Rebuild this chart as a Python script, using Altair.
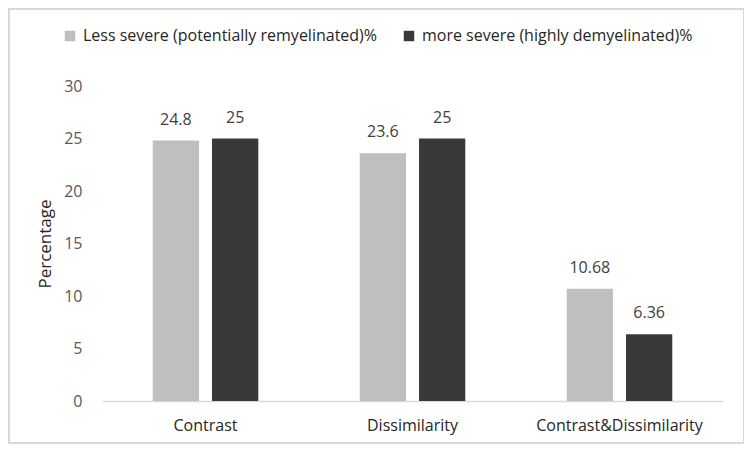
import altair as alt
import pandas as pd

categories = ["Contrast", "Dissimilarity", "Contrast&Dissimilarity"]
series = ["Less severe (potentially remyelinated)%", "more severe (highly demyelinated)%"]
less_severe = [24.8, 23.6, 10.68]
more_severe = [25, 25, 6.36]
labels_less = ["24.8", "23.6", "10.68"]
labels_more = ["25", "25", "6.36"]

rows = []
for c, v, l in zip(categories, less_severe, labels_less):
    rows.append({"category": c, "series": series[0], "value": v, "label": l})
for c, v, l in zip(categories, more_severe, labels_more):
    rows.append({"category": c, "series": series[1], "value": v, "label": l})
df = pd.DataFrame(rows)

FONT = "Open Sans"
FS = 16

x = alt.X("category:N", sort=categories, title=None,
          scale=alt.Scale(paddingInner=0.49, paddingOuter=0.245),
          axis=alt.Axis(labelAngle=0, labelFontSize=FS, labelColor="#262626",
                        labelFont=FONT, labelPadding=16, ticks=False,
                        domainColor="#D9D9D9", domainWidth=1.5))
xoff = alt.XOffset("series:N", sort=series, scale=alt.Scale(paddingInner=0.22))
y = alt.Y("value:Q", title="Percentage",
          scale=alt.Scale(domain=[0, 30], nice=False),
          axis=alt.Axis(values=[0, 5, 10, 15, 20, 25, 30], grid=False, domain=False,
                        ticks=False, labelFontSize=FS, labelColor="#595959",
                        labelFont=FONT, labelPadding=20, titleFont=FONT,
                        titleFontSize=17, titleFontWeight="normal",
                        titleColor="#262626", titlePadding=9))
color = alt.Color("series:N", sort=series,
                  scale=alt.Scale(domain=series, range=["#BFBFBF", "#3B3838"]),
                  legend=alt.Legend(title=None, orient="none", direction="horizontal",
                                    legendX=-40, legendY=-58, symbolType="square",
                                    symbolSize=110, symbolStrokeWidth=0,
                                    labelFontSize=FS, labelFont=FONT, labelLimit=0,
                                    labelColor="#262626", columnPadding=23,
                                    symbolOffset=0, labelOffset=5))

base = alt.Chart(df)
bars = base.mark_bar().encode(x=x, xOffset=xoff, y=y, color=color)
text = base.mark_text(baseline="bottom", dy=-13, fontSize=FS, font=FONT,
                      color="#404040").encode(x=x, xOffset=xoff, y=y, text="label:N")

border = alt.Chart(pd.DataFrame({"a": [0]})).mark_rect(
    fill=None, stroke="#D9D9D9", strokeWidth=2, clip=False
).encode(x=alt.value(-93), x2=alt.value(642), y=alt.value(-77), y2=alt.value(357))

chart = alt.layer(border, bars, text).properties(
    width=621, height=315,
    autosize=alt.AutoSizeParams(type="none"),
    padding={"left": 94, "top": 78, "right": 21, "bottom": 43},
).configure_view(stroke=None)

chart.save("out.html", embed_options={"renderer": "svg", "actions": False})
